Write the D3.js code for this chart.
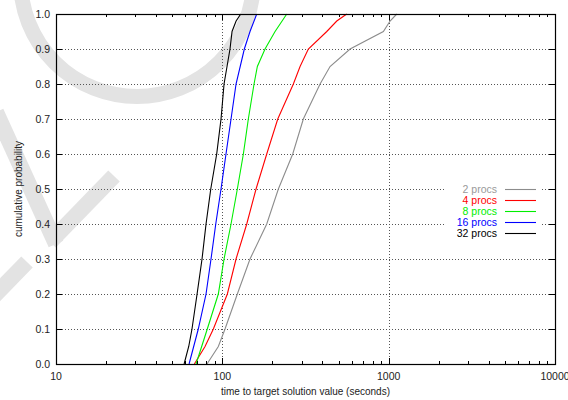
<!DOCTYPE html>
<html><head><meta charset="utf-8">
<script src="https://cdn.jsdelivr.net/npm/d3@7"></script>
<style>
body{margin:0;background:#fff}
svg{display:block}
text{font-family:"Liberation Sans",Arial,Helvetica,sans-serif}
</style>
</head><body>
<svg id="chart" width="568" height="400"></svg>
<script>
// ---------- data ----------
const seriesNames = ["2 procs", "4 procs", "8 procs", "16 procs", "32 procs"];

const procs2Prob = [0, 0.05, 0.1, 0.2, 0.3, 0.4, 0.5, 0.6, 0.7, 0.8, 0.85, 0.9, 0.95, 0.98, 1.0];
const procs2Time = [80.9, 94.6, 103.8, 123.1, 146.7, 184.9, 217.2, 265, 306.9, 386.9, 444.2, 586.1, 929.2, 1019.5, 1118.8];

const procs4Prob = [0, 0.05, 0.1, 0.2, 0.3, 0.4, 0.5, 0.6, 0.7, 0.8, 0.85, 0.9, 0.95, 0.98, 1.0];
const procs4Time = [67.9, 78.7, 88.3, 107.2, 120.9, 140.2, 159.5, 184.9, 215.4, 267.3, 293.3, 328.9, 424.5, 487.6, 559.8];

const procs8Prob = [0, 0.1, 0.2, 0.3, 0.4, 0.5, 0.6, 0.7, 0.8, 0.85, 0.9, 0.95, 1.0];
const procs8Time = [69.5, 81.2, 94.6, 102.4, 112.8, 123.1, 133.8, 143.3, 155.1, 162.4, 180.6, 207.5, 244];

const procs16Prob = [0, 0.1, 0.2, 0.3, 0.4, 0.5, 0.6, 0.7, 0.8, 0.9, 0.95, 1.0];
const procs16Time = [63.1, 71.7, 79.8, 85.5, 91.3, 98.2, 105.2, 112.8, 120.9, 135.6, 146.7, 161];

const procs32Prob = [0, 0.05, 0.1, 0.2, 0.3, 0.4, 0.5, 0.6, 0.7, 0.8, 0.9, 0.95, 0.98, 1.0];
const procs32Time = [58.9, 62.8, 65.7, 70.5, 75.5, 79.8, 85.2, 92.5, 98.2, 102.4, 111.2, 114.4, 121, 129];

const xTickValues = [10, 100, 1000, 10000];
const xTickLabels = ["10", "100", "1000", "10000"];
const yTickValues = [0, 0.1, 0.2, 0.3, 0.4, 0.5, 0.6, 0.7, 0.8, 0.9, 1.0];
const yTickLabels = ["0.0", "0.1", "0.2", "0.3", "0.4", "0.5", "0.6", "0.7", "0.8", "0.9", "1.0"];

const xTitle = "time to target solution value (seconds)";
const yTitle = "cumulative probability";

// ---------- styles ----------
const lineColors = ["#8c8c8c", "#ff0000", "#00ee00", "#0000ff", "#000000"];
const textColors = ["#9a9a9a", "#ff0000", "#00ee00", "#0000ff", "#000000"];

const series = [
  {prob: procs2Prob, time: procs2Time},
  {prob: procs4Prob, time: procs4Time},
  {prob: procs8Prob, time: procs8Time},
  {prob: procs16Prob, time: procs16Time},
  {prob: procs32Prob, time: procs32Time}
].map((s, i) => ({name: seriesNames[i], color: lineColors[i], tcolor: textColors[i],
  pts: s.time.map((t, j) => [t, s.prob[j]])}));

// ---------- layout ----------
const L = 56, R = 555, T = 14, B = 364;
const svg = d3.select("#chart");
const x = d3.scaleLog().domain([10, 10000]).range([L, R]);
const y = d3.scaleLinear().domain([0, 1]).range([B, T]);

// watermark (faint background shapes)
const wm = svg.append("g").attr("fill", "none").attr("stroke", "#e3e3e3").attr("stroke-width", 16);
wm.append("circle").attr("cx", 137).attr("cy", -20).attr("r", 116.5).attr("stroke-width", 15);
wm.append("line").attr("x1", -4).attr("y1", 112).attr("x2", 56).attr("y2", 244);
wm.append("line").attr("x1", 114).attr("y1", 176).attr("x2", 50).attr("y2", 242);
wm.append("line").attr("x1", 27).attr("y1", 262).attr("x2", -8).attr("y2", 298);

// grid
const grid = svg.append("g").attr("stroke", "#555").attr("stroke-width", 1).attr("stroke-dasharray", "1,2");
yTickValues.filter(v => v > 0 && v < 1).forEach(v => {
  const yy = Math.round(y(v)) + 0.5;
  grid.append("line").attr("x1", L).attr("x2", R).attr("y1", yy).attr("y2", yy);
});
[100, 1000].forEach(v => {
  const xx = Math.round(x(v)) + 0.5;
  grid.append("line").attr("x1", xx).attr("x2", xx).attr("y1", T).attr("y2", B);
});

// legend background (clears grid)
svg.append("rect").attr("x", 446).attr("y", 182).attr("width", 96).attr("height", 58).attr("fill", "#fff");

// curves
const line = d3.line().x(d => x(d[0])).y(d => y(d[1]));
svg.append("g").selectAll("path").data(series).join("path")
  .attr("fill", "none").attr("stroke", d => d.color).attr("stroke-width", 1.1)
  .attr("d", d => line(d.pts));

// ticks
const tk = svg.append("g").attr("stroke", "#000").attr("stroke-width", 1);
yTickValues.forEach(v => {
  const yy = Math.round(y(v)) + 0.5;
  tk.append("line").attr("x1", L).attr("x2", L + 6).attr("y1", yy).attr("y2", yy);
  tk.append("line").attr("x1", R - 6).attr("x2", R).attr("y1", yy).attr("y2", yy);
});
const minor = [];
for (let d = 10; d < 10000; d *= 10) for (let k = 2; k <= 9; k++) minor.push(d * k);
minor.forEach(v => {
  const xx = Math.round(x(v)) + 0.5;
  tk.append("line").attr("x1", xx).attr("x2", xx).attr("y1", B).attr("y2", B - 3);
  tk.append("line").attr("x1", xx).attr("x2", xx).attr("y1", T).attr("y2", T + 3);
});
xTickValues.forEach(v => {
  const xx = Math.round(x(v)) + 0.5;
  tk.append("line").attr("x1", xx).attr("x2", xx).attr("y1", B).attr("y2", B - 6);
  tk.append("line").attr("x1", xx).attr("x2", xx).attr("y1", T).attr("y2", T + 6);
});

// border
svg.append("rect").attr("x", L + 0.5).attr("y", T + 0.5).attr("width", R - L).attr("height", B - T)
  .attr("fill", "none").attr("stroke", "#000").attr("stroke-width", 1.2);

// tick labels
const fs = 10.5;
svg.append("g").selectAll("text").data(yTickValues).join("text")
  .attr("x", 50).attr("y", d => y(d)).attr("dy", "0.35em").attr("text-anchor", "end")
  .attr("font-size", fs).attr("fill", "#222").text((d, i) => yTickLabels[i]);
svg.append("g").selectAll("text").data(xTickValues).join("text")
  .attr("x", d => x(d)).attr("y", 380).attr("text-anchor", "middle")
  .attr("font-size", fs).attr("fill", "#222").text((d, i) => xTickLabels[i]);

// axis titles
svg.append("text").attr("x", (L + R) / 2).attr("y", 394.5).attr("text-anchor", "middle")
  .attr("font-size", 10).attr("fill", "#222").text(xTitle);
svg.append("text").attr("transform", "translate(21.5," + ((T + B) / 2) + ") rotate(-90)")
  .attr("text-anchor", "middle").attr("font-size", 10).attr("fill", "#222").text(yTitle);

// legend
const lg = svg.append("g");
series.forEach((s, i) => {
  const yy = 189.3 + i * 11;
  lg.append("text").attr("x", 497).attr("y", yy).attr("dy", "0.35em").attr("text-anchor", "end")
    .attr("font-size", fs).attr("fill", s.tcolor).text(s.name);
  lg.append("line").attr("x1", 505).attr("x2", 536).attr("y1", Math.round(yy) + 0.5).attr("y2", Math.round(yy) + 0.5)
    .attr("stroke", s.color).attr("stroke-width", 1.1);
});
</script>
</body></html>
